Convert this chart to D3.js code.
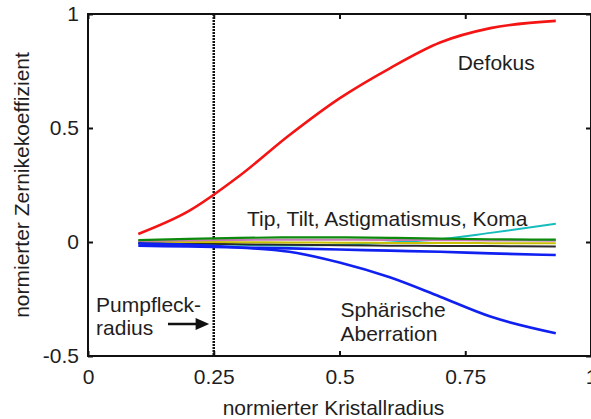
<!DOCTYPE html>
<html>
<head>
<meta charset="utf-8">
<script src="https://cdn.jsdelivr.net/npm/d3@7"></script>
<style>
  html, body { margin: 0; padding: 0; background: #fff; }
  svg { display: block; }
  text { font-family: "Liberation Sans", Arial, sans-serif; fill: #1e1e1e; }
</style>
</head>
<body>
<svg id="chart" width="591" height="419"></svg>
<script>
// Normalized crystal radius (sample positions)
const radius = [0.1, 0.2, 0.3, 0.4, 0.5, 0.6, 0.7, 0.8, 0.93];

// Normalized Zernike coefficients per mode
const defokus     = [0.035, 0.135, 0.288, 0.468, 0.63, 0.762, 0.875, 0.938, 0.97];
const sphaerisch  = [-0.006, -0.012, -0.024, -0.043, -0.09, -0.155, -0.24, -0.327, -0.40];
const blau2       = [-0.016, -0.02, -0.024, -0.028, -0.033, -0.038, -0.043, -0.05, -0.057];
const gruen       = [0.008, 0.014, 0.018, 0.02, 0.02, 0.018, 0.015, 0.012, 0.01];
const magenta     = [0.004, 0.007, 0.009, 0.01, 0.01, 0.009, 0.008, 0.007, 0.006];
const gelb        = [0.001, 0.0, -0.001, -0.002, -0.003, -0.004, -0.004, -0.005, -0.005];
const schwarz     = [-0.003, -0.006, -0.01, -0.012, -0.014, -0.016, -0.017, -0.018, -0.02];
const cyan        = [-0.004, -0.008, -0.012, -0.015, -0.012, -0.002, 0.012, 0.04, 0.08];

// Axis ticks
const xTicks = [0, 0.25, 0.5, 0.75, 1];
const xTickLabels = ["0", "0.25", "0.5", "0.75", "1"];
const yTicks = [-0.5, 0, 0.5, 1];
const yTickLabels = ["-0.5", "0", "0.5", "1"];

// Pump spot radius marker
const pumpRadius = 0.25;

const series = [
  { values: cyan,       color: "#14bcbc", width: 2 },
  { values: schwarz,    color: "#2a2a2a", width: 2 },
  { values: gelb,       color: "#c8c000", width: 2 },
  { values: magenta,    color: "#c878b4", width: 2 },
  { values: gruen,      color: "#0c8a0c", width: 2.2 },
  { values: blau2,      color: "#1020f0", width: 2.6 },
  { values: sphaerisch, color: "#1020f0", width: 2.6 },
  { values: defokus,    color: "#f41414", width: 2.6 }
];

const svg = d3.select("#chart");
const x = d3.scaleLinear().domain([0, 1]).range([88, 591]);
const y = d3.scaleLinear().domain([-0.5, 1]).range([356, 14]);

const [x0, x1] = x.range();
const [yb, yt] = y.range();

// Axes: ticks point inward on all four sides
const fmtX = (d) => xTickLabels[xTicks.indexOf(d)];
const fmtY = (d) => yTickLabels[yTicks.indexOf(d)];

const gx = svg.append("g").attr("transform", `translate(0,${yb})`)
  .call(d3.axisBottom(x).tickValues(xTicks).tickFormat(fmtX)
    .tickSizeInner(-5).tickSizeOuter(0).tickPadding(13));
const gy = svg.append("g").attr("transform", `translate(${x0},0)`)
  .call(d3.axisLeft(y).tickValues(yTicks).tickFormat(fmtY)
    .tickSizeInner(-5).tickSizeOuter(0).tickPadding(9));
const gxt = svg.append("g").attr("transform", `translate(0,${yt})`)
  .call(d3.axisTop(x).tickValues(xTicks).tickFormat("")
    .tickSizeInner(-5).tickSizeOuter(0));
const gyr = svg.append("g").attr("transform", `translate(${x1},0)`)
  .call(d3.axisRight(y).tickValues(yTicks).tickFormat("")
    .tickSizeInner(-5).tickSizeOuter(0));

[gx, gy, gxt, gyr].forEach(g => {
  g.select(".domain").remove();
  g.selectAll(".tick line").attr("stroke", "#111").attr("stroke-width", 2);
  g.selectAll(".tick text")
    .attr("font-family", "'Liberation Sans', Arial, sans-serif")
    .attr("font-size", 21).attr("fill", "#1e1e1e");
});

// Dotted vertical line at the pump spot radius
svg.append("line")
  .attr("x1", x(pumpRadius)).attr("x2", x(pumpRadius))
  .attr("y1", yt).attr("y2", yb)
  .attr("stroke", "#111").attr("stroke-width", 2.5)
  .attr("stroke-dasharray", "2,1");

// Coefficient curves
const line = d3.line().curve(d3.curveMonotoneX)
  .x((d, i) => x(radius[i])).y(d => y(d));
svg.append("g").selectAll("path").data(series).join("path")
  .attr("d", s => line(s.values))
  .attr("fill", "none")
  .attr("stroke", s => s.color)
  .attr("stroke-width", s => s.width)
  .attr("stroke-linejoin", "round");

// Plot frame
svg.append("rect")
  .attr("x", x0).attr("y", yt)
  .attr("width", x1 - x0).attr("height", yb - yt)
  .attr("fill", "none").attr("stroke", "#111").attr("stroke-width", 2);

// Annotations
const fs = 21;
const label = (tx, ty, str) => svg.append("text")
  .attr("x", tx).attr("y", ty).attr("font-size", fs).text(str);

label(x(0.735), y(0.755), "Defokus");
label(x(0.316), y(0.068), "Tip, Tilt, Astigmatismus, Koma");
label(x(0.502), y(-0.33), "Sphärische");
label(x(0.502), y(-0.435), "Aberration");
label(x(0.016), y(-0.307), "Pumpfleck-");
label(x(0.016), y(-0.408), "radius");

// Arrow pointing at the pump spot radius
const ay = y(-0.36);
svg.append("line")
  .attr("x1", x(0.159)).attr("x2", x(0.225))
  .attr("y1", ay).attr("y2", ay)
  .attr("stroke", "#111").attr("stroke-width", 2.5);
svg.append("path")
  .attr("d", d3.line()([[x(0.241), ay], [x(0.214), ay - 6], [x(0.214), ay + 6]]) + "Z")
  .attr("fill", "#111");

// Axis titles
svg.append("text")
  .attr("x", (x0 + x1) / 2 - 6).attr("y", 415)
  .attr("text-anchor", "middle").attr("font-size", fs)
  .text("normierter Kristallradius");
svg.append("text")
  .attr("transform", `translate(29,${(yt + yb) / 2}) rotate(-90)`)
  .attr("text-anchor", "middle").attr("font-size", fs)
  .text("normierter Zernikekoeffizient");
</script>
</body>
</html>
